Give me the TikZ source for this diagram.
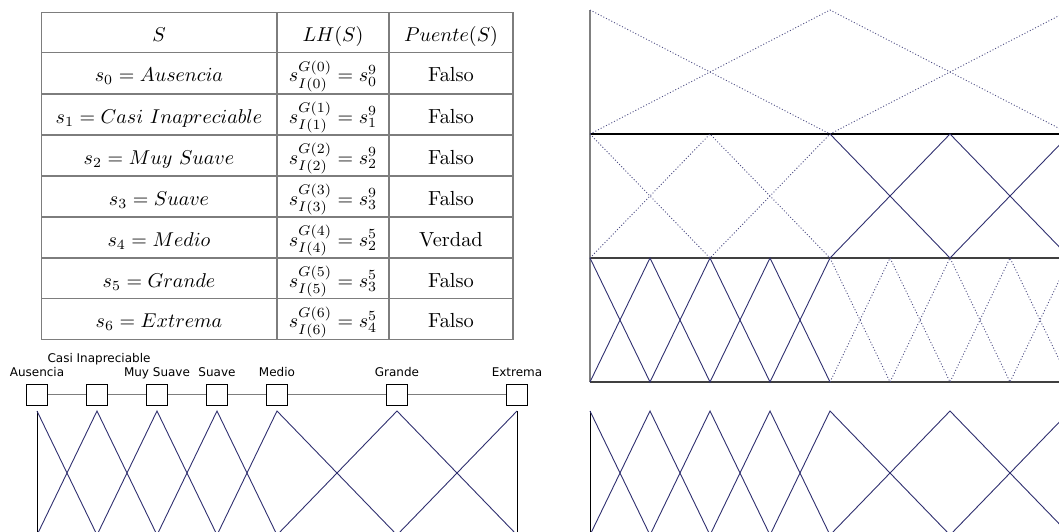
\documentclass[tikz,border=0pt]{standalone}
\usepackage{fontspec}
\newfontfamily\lblfont{DejaVu Sans}
\usetikzlibrary{positioning}
\definecolor{mfblue}{RGB}{48,48,112}
\definecolor{rulegray}{RGB}{125,125,125}
\tikzset{
  tcell/.style   = {inner sep=0pt, anchor=base, font=\fontsize{10.2}{12.2}\selectfont},
  tline/.style   = {rulegray, line width=0.6pt},
  lblbox/.style  = {rectangle, draw, fill=white, line width=0.5pt,
                    minimum width=10.5pt, minimum height=10.5pt, inner sep=0pt},
  lbltext/.style = {inner sep=0pt, text depth=0pt,
                    font=\lblfont\fontsize{6}{7.2}\selectfont},
  linkline/.style = {rulegray, line width=0.5pt},
  mfline/.style  = {mfblue, line width=0.45pt},
  mfdot/.style   = {mfblue!85, line width=0.45pt, dash pattern=on 0.5pt off 1pt},
  sepline/.style = {line width=0.7pt}
}

\begin{document}
\begin{tikzpicture}[x=0.5pt, y=-0.5pt]
  \useasboundingbox (0,0) rectangle (1059,531);
  \clip (0,0) rectangle (1059,531);

  % tabla de etiquetas
  \draw[tline] (41.5,12.3) rectangle (513,339.3);
  \foreach \y in {52.5,94,135,176,217,258,298.5}
    \draw[tline] (41.5,\y) -- (513,\y);
  \draw[tline] (277,12.3) -- (277,339.3);
  \draw[tline] (389,12.3) -- (389,339.3);

  \node (hs)  [tcell] at (159,41)   {$S$};
  \node (hlh) [tcell] at (333,41)   {$LH(S)$};
  \node (hp)  [tcell] at (451,41)   {$Puente(S)$};

  \node (s0)  [tcell] at (159,81.5) {$s_0 = Ausencia$};
  \node (lh0) [tcell] at (333,81.5) {$s^{G(0)}_{I(0)} = s^9_0$};
  \node (p0)  [tcell] at (451,81.5) {Falso};
  \node (s1)  [tcell] at (159,123)  {$s_1 = Casi\ Inapreciable$};
  \node (lh1) [tcell] at (333,123)  {$s^{G(1)}_{I(1)} = s^9_1$};
  \node (p1)  [tcell] at (451,123)  {Falso};
  \node (s2)  [tcell] at (159,164)  {$s_2 = Muy\ Suave$};
  \node (lh2) [tcell] at (333,164)  {$s^{G(2)}_{I(2)} = s^9_2$};
  \node (p2)  [tcell] at (451,164)  {Falso};
  \node (s3)  [tcell] at (159,205)  {$s_3 = Suave$};
  \node (lh3) [tcell] at (333,205)  {$s^{G(3)}_{I(3)} = s^9_3$};
  \node (p3)  [tcell] at (451,205)  {Falso};
  \node (s4)  [tcell] at (159,246)  {$s_4 = Medio$};
  \node (lh4) [tcell] at (333,246)  {$s^{G(4)}_{I(4)} = s^5_2$};
  \node (p4)  [tcell] at (451,246)  {Verdad};
  \node (s5)  [tcell] at (159,287)  {$s_5 = Grande$};
  \node (lh5) [tcell] at (333,287)  {$s^{G(5)}_{I(5)} = s^5_3$};
  \node (p5)  [tcell] at (451,287)  {Falso};
  \node (s6)  [tcell] at (159,327.5) {$s_6 = Extrema$};
  \node (lh6) [tcell] at (333,327.5) {$s^{G(6)}_{I(6)} = s^5_4$};
  \node (p6)  [tcell] at (451,327.5) {Falso};

  % escala de etiquetas
  \node (ausencia) [lblbox] at (37,394.7)  {};
  \node (casi)     [lblbox] at (97,394.7)  {};
  \node (muysuave) [lblbox] at (157,394.7) {};
  \node (suave)    [lblbox] at (217,394.7) {};
  \node (medio)    [lblbox] at (277,394.7) {};
  \node (grande)   [lblbox] at (397,394.7) {};
  \node (extrema)  [lblbox] at (517,394.7) {};
  \draw[linkline] (ausencia) -- (casi) -- (muysuave) -- (suave)
                  -- (medio) -- (grande) -- (extrema);

  \node (lausencia) [lbltext, above=3.4pt of ausencia] {Ausencia};
  \node (lcasi)     [lbltext, above=10.4pt of casi, xshift=1pt] {Casi Inapreciable};
  \node (lmuysuave) [lbltext, above=3.4pt of muysuave] {Muy Suave};
  \node (lsuave)    [lbltext, above=3.4pt of suave]    {Suave};
  \node (lmedio)    [lbltext, above=3.4pt of medio]    {Medio};
  \node (lgrande)   [lbltext, above=3.4pt of grande]   {Grande};
  \node (lextrema)  [lbltext, above=3.4pt of extrema]  {Extrema};

  % funciones de pertenencia no balanceadas
  \draw[line width=0.5pt] (37,411) -- (37,540);
  \draw[line width=0.5pt] (517,411) -- (517,540);
  \draw[mfline] (37,411) -- (97,535) -- (157,411) -- (217,535)
                -- (277,411) -- (397,535) -- (517,411);
  \draw[mfline] (37,535) -- (97,411) -- (157,535) -- (217,411)
                -- (277,535) -- (397,411) -- (517,535);

  % jerarquia linguistica
  \draw[gray, line width=1pt] (590,10) -- (590,382);
  \draw[sepline] (590,134) -- (1080,134);
  \draw[sepline, black!75] (590,258) -- (1080,258);
  \draw[sepline, black!75] (590,382) -- (1080,382);

  % nivel 1: 3 etiquetas
  \draw[mfdot] (590,10) -- (830,134) -- (1070,10) -- (1310,134);
  \draw[mfdot] (590,134) -- (830,10) -- (1070,134) -- (1310,10);

  % nivel 2: 5 etiquetas
  \draw[mfdot] (590,134) -- (710,258) -- (830,134);
  \draw[mfdot] (590,258) -- (710,134) -- (830,258);
  \draw[mfline] (830,134) -- (950,258) -- (1070,134) -- (1190,258);
  \draw[mfline] (830,258) -- (950,134) -- (1070,258) -- (1190,134);

  % nivel 3: 9 etiquetas
  \draw[mfline] (590,258) -- (650,382) -- (710,258) -- (770,382) -- (830,258);
  \draw[mfline] (590,382) -- (650,258) -- (710,382) -- (770,258) -- (830,382);
  \draw[mfdot] (830,258) -- (890,382) -- (950,258) -- (1010,382)
               -- (1070,258) -- (1130,382);
  \draw[mfdot] (830,382) -- (890,258) -- (950,382) -- (1010,258)
               -- (1070,382) -- (1130,258);

  % resultado
  \draw[line width=0.5pt] (590,411) -- (590,540);
  \draw[mfline] (590,411) -- (650,535) -- (710,411) -- (770,535)
                -- (830,411) -- (950,535) -- (1070,411) -- (1190,535);
  \draw[mfline] (590,535) -- (650,411) -- (710,535) -- (770,411)
                -- (830,535) -- (950,411) -- (1070,535) -- (1190,411);
\end{tikzpicture}
\end{document}
